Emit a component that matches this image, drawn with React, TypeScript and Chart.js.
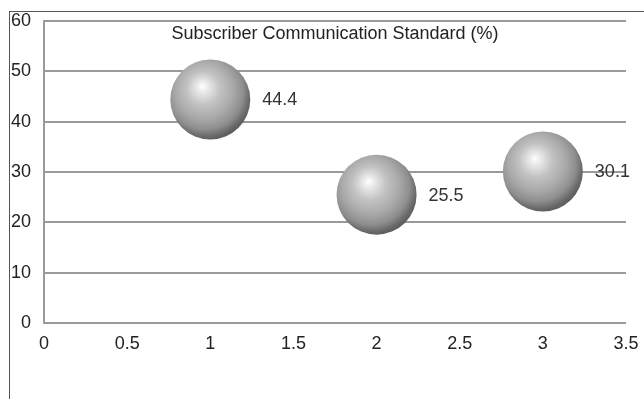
import React, { useEffect, useRef } from "react";
import { Chart, registerables } from "chart.js";

Chart.register(...registerables);

// Subscriber communication standard, one bubble per group
const groups = [1, 2, 3];
const shares = [44.4, 25.5, 30.1];
const chartTitle = "Subscriber Communication Standard (%)";
const xTicks = [0, 0.5, 1, 1.5, 2, 2.5, 3, 3.5];
const yTicks = [0, 10, 20, 30, 40, 50, 60];

const SPHERE_R = 40;
const FONT = "'Liberation Sans', Arial, sans-serif";
const FONT_SIZE = 18;

const titleAndLabels = {
  id: "titleAndLabels",
  afterDatasetsDraw(chart: any) {
    const { ctx, chartArea } = chart;
    ctx.save();
    ctx.font = `${FONT_SIZE}px ${FONT}`;
    ctx.fillStyle = "#222";
    ctx.textAlign = "center";
    ctx.textBaseline = "middle";
    ctx.fillText(chartTitle, (chartArea.left + chartArea.right) / 2, chartArea.top + 13);

    const meta = chart.getDatasetMeta(0);
    ctx.fillStyle = "#333";
    ctx.textAlign = "left";
    meta.data.forEach((pt: any, i: number) => {
      ctx.fillText(String(shares[i]), pt.x + 52, pt.y + 1);
    });
    ctx.restore();
  },
};

export default function App() {
  const canvasRef = useRef<HTMLCanvasElement | null>(null);

  useEffect(() => {
    const canvas = canvasRef.current;
    if (!canvas) return;
    const chart = new Chart(canvas, {
      type: "bubble",
      data: {
        datasets: [
          {
            label: chartTitle,
            data: groups.map((g, i) => ({ x: g, y: shares[i] })),
            radius: SPHERE_R,
            borderWidth: 0,
            hoverRadius: 0,
            backgroundColor: (c: any) => {
              if (c.type !== "data" || !c.raw) return "#aaa";
              const ch = c.chart;
              const xs = ch.scales.x;
              const ys = ch.scales.y;
              if (!xs || !ys) return "#aaa";
              const cx = xs.getPixelForValue(c.raw.x);
              const cy = ys.getPixelForValue(c.raw.y);
              if (!isFinite(cx) || !isFinite(cy)) return "#aaa";
              const g = ch.ctx.createRadialGradient(
                cx - SPHERE_R * 0.2,
                cy - SPHERE_R * 0.33,
                0,
                cx - SPHERE_R * 0.12,
                cy - SPHERE_R * 0.18,
                SPHERE_R * 1.2
              );
              g.addColorStop(0, "#ffffff");
              g.addColorStop(0.1, "#ececec");
              g.addColorStop(0.35, "#c2c2c2");
              g.addColorStop(0.6, "#a9a9a9");
              g.addColorStop(0.8, "#8e8e8e");
              g.addColorStop(0.92, "#6c6c6c");
              g.addColorStop(1, "#5c5c5c");
              return g;
            },
          } as any,
        ],
      },
      options: {
        animation: false,
        responsive: false,
        maintainAspectRatio: false,
        layout: {
          autoPadding: false,
          padding: { left: 0, top: 21, right: 18, bottom: 0 },
        },
        plugins: {
          legend: { display: false },
          title: { display: false },
          tooltip: { enabled: false },
        },
        scales: {
          x: {
            type: "linear",
            min: 0,
            max: 3.5,
            afterBuildTicks: (s: any) => {
              s.ticks = xTicks.map((v) => ({ value: v }));
            },
            afterFit: (s: any) => {
              s.height = 76;
              s.paddingLeft = 0;
              s.paddingRight = 0;
            },
            grid: { display: false, drawTicks: false },
            border: { display: false },
            ticks: {
              padding: 10,
              color: "#222",
              font: { family: FONT, size: FONT_SIZE },
              maxRotation: 0,
              callback: (v: any) => String(v),
            },
          },
          y: {
            type: "linear",
            min: 0,
            max: 60,
            afterBuildTicks: (s: any) => {
              s.ticks = yTicks.map((v) => ({ value: v }));
            },
            afterFit: (s: any) => {
              s.width = 44;
              s.paddingTop = 0;
              s.paddingBottom = 0;
            },
            grid: { color: "#9a9a9a", lineWidth: 2, drawTicks: false },
            border: { display: true, color: "#9a9a9a", width: 2 },
            ticks: {
              padding: 13,
              color: "#222",
              font: { family: FONT, size: FONT_SIZE },
              callback: (v: any) => String(v),
            },
          },
        },
      },
      plugins: [titleAndLabels],
    } as any);
    return () => chart.destroy();
  }, []);

  return (
    <div
      style={{
        position: "fixed",
        left: 0,
        top: 0,
        width: 644,
        height: 399,
        overflow: "hidden",
        background: "#fff",
      }}
    >
      <div
        style={{
          position: "absolute",
          left: 9,
          top: 11,
          width: 700,
          height: 450,
          border: "1px solid #555",
        }}
      />
      <canvas
        ref={canvasRef}
        width={644}
        height={399}
        style={{ position: "absolute", left: 0, top: 0, width: 644, height: 399 }}
      />
    </div>
  );
}
